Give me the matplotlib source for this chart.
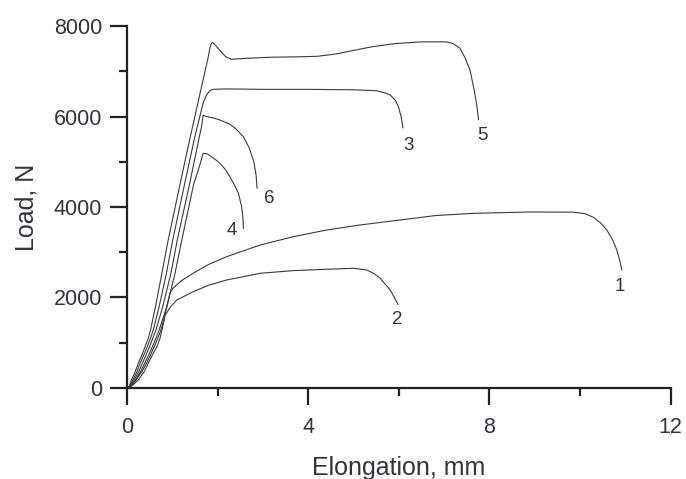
import matplotlib.pyplot as plt
from matplotlib.ticker import MultipleLocator

plt.rcParams['font.family'] = ['Liberation Sans', 'DejaVu Sans']

# ----------------------------
# Data
# ----------------------------
x1 = [0, 0.08, 0.2, 0.33, 0.43, 0.52, 0.6, 0.68, 0.75, 0.87, 0.95, 1.02, 1.2, 1.46, 1.8,
      2.2, 2.94, 3.67, 4.41, 5.14, 6.03, 6.8, 7.64, 8.9, 9.85, 10.1, 10.3, 10.45, 10.59,
      10.72, 10.81, 10.88, 10.92]
y1 = [0, 40, 177, 360, 546, 730, 913, 1100, 1282, 1750, 2100, 2210, 2370, 2535, 2730,
      2902, 3160, 3344, 3492, 3602, 3713, 3810, 3860, 3890, 3885, 3855, 3770, 3650, 3492,
      3270, 3050, 2800, 2608]

x2 = [0, 0.1, 0.25, 0.38, 0.47, 0.56, 0.66, 0.73, 0.8, 0.84, 0.95, 1.1, 1.46, 1.8, 2.2,
      2.94, 3.67, 4.41, 5.0, 5.29, 5.45, 5.59, 5.81, 5.95, 5.98]
y2 = [0, 40, 177, 360, 546, 730, 913, 1100, 1400, 1600, 1780, 1945, 2128, 2270, 2387,
      2535, 2594, 2624, 2645, 2608, 2530, 2424, 2166, 1907, 1850]

x3 = [0, 0.06, 0.13, 0.22, 0.29, 0.37, 0.45, 0.52, 0.58, 0.71, 0.87, 1.01, 1.27, 1.49,
      1.68, 1.76, 1.83, 1.9, 2.2, 3.0, 4.0, 5.0, 5.5, 5.7, 5.81, 5.92, 5.99, 6.05, 6.09]
y3 = [0, 40, 177, 360, 546, 730, 913, 1100, 1282, 1800, 2534, 3271, 4500, 5518,
      6300, 6480, 6570, 6600, 6610, 6600, 6600, 6590, 6570, 6520, 6475, 6360, 6217, 6000, 5750]

x4 = [0, 0.08, 0.19, 0.3, 0.39, 0.48, 0.56, 0.64, 0.71, 0.88, 1.06, 1.21, 1.47, 1.6,
      1.68, 1.78, 1.95, 2.05, 2.17, 2.27, 2.38, 2.46, 2.53, 2.56, 2.57]
y4 = [0, 40, 177, 360, 546, 730, 913, 1100, 1282, 1800, 2534, 3271, 4500, 4900,
      5187, 5170, 5050, 4966, 4830, 4670, 4470, 4303, 4007, 3750, 3530]

x5 = [0, 0.05, 0.1, 0.18, 0.25, 0.33, 0.4, 0.47, 0.52, 0.63, 0.77, 0.91, 1.17, 1.39,
      1.61, 1.79, 1.84, 1.88, 1.93, 2.05, 2.18, 2.31, 2.7, 3.2, 3.8, 4.2, 4.6, 5.0, 5.4,
      5.9, 6.5, 7.05, 7.2, 7.35, 7.46, 7.57, 7.66, 7.72, 7.76]
y5 = [0, 40, 177, 360, 546, 730, 913, 1100, 1282, 1800, 2534, 3271, 4500, 5518,
      6500, 7300, 7560, 7640, 7600, 7460, 7320, 7265, 7290, 7310, 7320, 7330, 7380, 7460, 7540,
      7610, 7650, 7650, 7610, 7507, 7300, 7028, 6600, 6250, 5930]

x6 = [0, 0.07, 0.16, 0.26, 0.34, 0.42, 0.5, 0.57, 0.64, 0.79, 0.97, 1.11, 1.38, 1.59,
      1.65, 1.68, 1.75, 1.9, 2.05, 2.25, 2.4, 2.57, 2.7, 2.8, 2.85, 2.87]
y6 = [0, 40, 177, 360, 546, 730, 913, 1100, 1282, 1800, 2534, 3271, 4500, 5518,
      5800, 6030, 6000, 5970, 5923, 5840, 5730, 5554, 5300, 5000, 4700, 4420]

curves = [(x1, y1), (x2, y2), (x3, y3), (x4, y4), (x5, y5), (x6, y6)]

# curve number labels
lab_text = ['1', '2', '3', '4', '5', '6']
lab_x = [10.88, 5.97, 6.21, 2.31, 7.84, 3.13]
lab_y = [2240, 1503, 5370, 3470, 5590, 4190]

# ----------------------------
# Figure
# ----------------------------
fig = plt.figure(figsize=(6.86, 4.79), dpi=100)
ax = fig.add_axes([0.1851, 0.19, 0.7926, 0.7557])

for xs, ys in curves:
    ax.plot(xs, ys, color='#3a3a3a', linewidth=0.8, clip_on=False)

for t, lx, ly in zip(lab_text, lab_x, lab_y):
    ax.text(lx, ly, t, ha='center', va='center', fontsize=13.5, color='#333340')

ax.set_xlim(0, 12)
ax.set_ylim(0, 8000)
ax.xaxis.set_major_locator(MultipleLocator(4))
ax.xaxis.set_minor_locator(MultipleLocator(2))
ax.yaxis.set_major_locator(MultipleLocator(2000))
ax.yaxis.set_minor_locator(MultipleLocator(1000))

for s in ['top', 'right']:
    ax.spines[s].set_visible(False)
for s in ['left', 'bottom']:
    ax.spines[s].set_linewidth(1.6)
    ax.spines[s].set_color('#222222')

ax.tick_params(which='major', direction='out', length=12, width=1.6,
               color='#222222', labelsize=15.5, labelcolor='#333340')
ax.tick_params(which='minor', direction='out', length=6, width=1.6, color='#222222')
ax.tick_params(axis='x', which='major', pad=9)
ax.tick_params(axis='y', which='major', pad=6)

ax.set_xlabel('Elongation, mm', fontsize=18, color='#333340', labelpad=13)
ax.set_ylabel('Load, N', fontsize=18, color='#333340', labelpad=11)

fig.savefig('out.png', dpi=100)
